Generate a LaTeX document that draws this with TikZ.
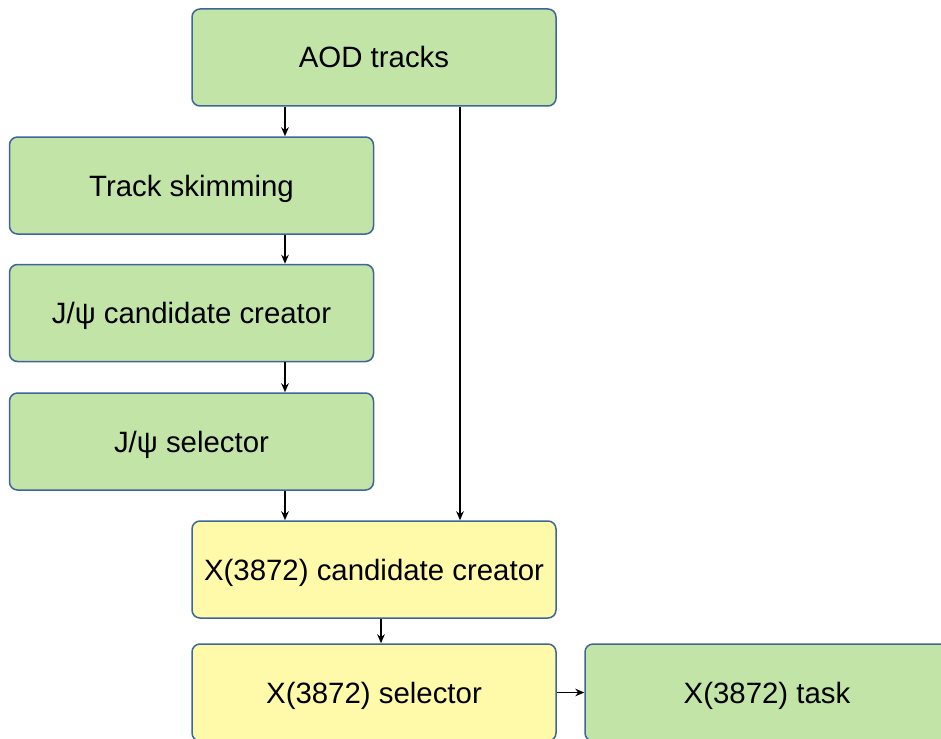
\documentclass[tikz,border=0pt]{standalone}
\usepackage{fontspec}
\setmainfont{Liberation Sans}
\usepackage{xcolor}
\usepackage{tikz}
\usetikzlibrary{arrows.meta}
\usetikzlibrary{positioning}
\definecolor{boxline}{RGB}{62,102,150}
\definecolor{boxgreen}{RGB}{195,228,167}
\definecolor{boxyellow}{RGB}{255,250,170}

\begin{document}
\begin{tikzpicture}[
x=0.5pt, y=-0.5pt,
GreenBox/.style={draw=boxline,fill=boxgreen,line width=0.75pt,rounded corners=4pt,
  minimum width=182pt,minimum height=48.5pt,inner sep=0pt,
  text height=10.5pt,text depth=0pt,
  font=\fontsize{14.7}{17}\selectfont},
YellowBox/.style={GreenBox,fill=boxyellow},
Arrows/.style={-{Stealth[length=4.5pt,width=3.8pt]},line width=0.7pt,black}
]

\useasboundingbox (0,0) rectangle (941,738);
\clip (0,0) rectangle (941,738);

% boxes of the chain
\node[GreenBox] (aod) at (374,57.5) {AOD tracks};
\node[GreenBox] (skim) at (191.5,185.5) {Track skimming};
\node[GreenBox] (jcand) at (191.5,313) {J/ψ candidate creator};
\node[GreenBox] (jsel) at (191.5,441.5) {J/ψ selector};
\node[YellowBox] (xcand) at (374,569.5) {X(3872) candidate creator};
\node[YellowBox] (xsel) at (374,692.5) {X(3872) selector};
\node[GreenBox] (xtask) at (767,692.5) {X(3872) task};

% x positions of the vertical arrows
\coordinate (left) at (285,0);
\coordinate (right) at (460,0);
\coordinate (mid) at (381,0);

\draw[Arrows] (aod.south -| left) -- (skim.north -| left);
\draw[Arrows] (skim.south -| left) -- (jcand.north -| left);
\draw[Arrows] (jcand.south -| left) -- (jsel.north -| left);
\draw[Arrows] (jsel.south -| left) -- (xcand.north -| left);
\draw[Arrows] (aod.south -| right) -- (xcand.north -| right);
\draw[Arrows] (xcand.south -| mid) -- (xsel.north -| mid);
\draw[Arrows] (xsel.east) -- (xtask.west);

\end{tikzpicture}
\end{document}
